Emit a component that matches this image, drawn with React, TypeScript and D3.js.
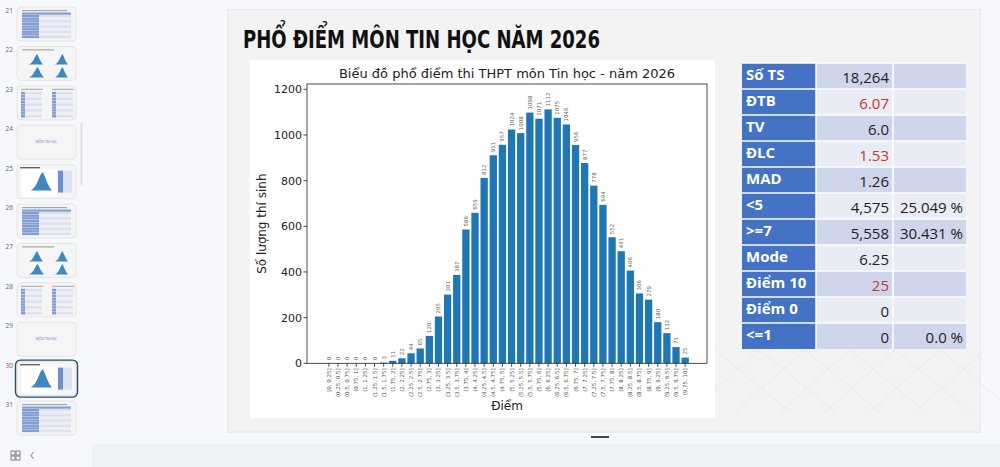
import * as d3 from "d3";

// bins of 0.25 points, counts
const binLabels = [
  "[0, 0.25]", "(0.25, 0.5]", "(0.5, 0.75]", "(0.75, 1]", "(1, 1.25]", "(1.25, 1.5]",
  "(1.5, 1.75]", "(1.75, 2]", "(2, 2.25]", "(2.25, 2.5]", "(2.5, 2.75]", "(2.75, 3]",
  "(3, 3.25]", "(3.25, 3.5]", "(3.5, 3.75]", "(3.75, 4]", "(4, 4.25]", "(4.25, 4.5]",
  "(4.5, 4.75]", "(4.75, 5]", "(5, 5.25]", "(5.25, 5.5]", "(5.5, 5.75]", "(5.75, 6]",
  "(6, 6.25]", "(6.25, 6.5]", "(6.5, 6.75]", "(6.75, 7]", "(7, 7.25]", "(7.25, 7.5]",
  "(7.5, 7.75]", "(7.75, 8]", "(8, 8.25]", "(8.25, 8.5]", "(8.5, 8.75]", "(8.75, 9]",
  "(9, 9.25]", "(9.25, 9.5]", "(9.5, 9.75]", "(9.75, 10]",
];
const binCounts = [
  0, 0, 0, 0, 0, 0, 3, 11, 22, 44, 65, 120, 205, 301, 387, 586, 659, 812, 911, 957,
  1024, 1008, 1098, 1071, 1112, 1075, 1046, 956, 877, 778, 694, 552, 491, 406, 306,
  279, 180, 132, 71, 25,
];
const yTicks = [0, 200, 400, 600, 800, 1000, 1200];

// summary table
const statLabels = ["Số TS", "ĐTB", "TV", "ĐLC", "MAD", "<5", ">=7", "Mode", "Điểm 10", "Điểm 0", "<=1"];
const statValues = ["18,264", "6.07", "6.0", "1.53", "1.26", "4,575", "5,558", "6.25", "25", "0", "0"];
const statPercents = ["", "", "", "", "", "25.049 %", "30.431 %", "", "", "", "0.0 %"];
const statRed = [false, true, false, true, false, false, false, false, true, false, false];

// sidebar slides
const slideNumbers = [21, 22, 23, 24, 25, 26, 27, 28, 29, 30, 31];
const slideKinds = ["table", "four", "two", "blank", "chart", "table", "four", "two", "blank", "chart", "table"];

const UI = "'Open Sans', 'Noto Sans', sans-serif";
const MPL = "'DejaVu Sans', sans-serif";

function Chart() {
  const left = 307, right = 707, top = 84, bottom = 363.3;
  const n = binCounts.length;
  const pad = (n - 1 + 0.8) * 0.05;
  const x = d3.scaleLinear().domain([-0.4 - pad, n - 1 + 0.4 + pad]).range([left, right]);
  const y = d3.scaleLinear().domain([0, d3.max(binCounts)! * 1.1]).range([bottom, top]);
  const cx = (left + right) / 2;
  return (
    <g>
      <rect x={250} y={60} width={465} height={358} fill="#ffffff" />
      <text x={cx} y={78} textAnchor="middle" fontFamily={MPL} fontSize={13} fill="#222">
        Biểu đồ phổ điểm thi THPT môn Tin học - năm 2026
      </text>
      {binCounts.map((v, i) => (
        <rect key={i} x={x(i - 0.4)} y={y(v)} width={x(0.8) - x(0)} height={bottom - y(v)} fill="#1f77b4" />
      ))}
      {binCounts.map((v, i) => (
        <text key={"l" + i} transform={`translate(${x(i) + 2},${y(v) - 3}) rotate(-90)`}
          fontFamily={MPL} fontSize={5.5} fill="#666">{v}</text>
      ))}
      <rect x={left} y={top} width={right - left} height={bottom - top} fill="none" stroke="#222" strokeWidth={0.8} />
      {yTicks.map((t) => (
        <g key={t}>
          <line x1={left - 3.5} x2={left} y1={y(t)} y2={y(t)} stroke="#222" strokeWidth={0.8} />
          <text x={left - 5} y={y(t) + 4} textAnchor="end" fontFamily={MPL} fontSize={11} fill="#222">{t}</text>
        </g>
      ))}
      {binLabels.map((l, i) => (
        <g key={"t" + i}>
          <line x1={x(i)} x2={x(i)} y1={bottom} y2={bottom + 3.5} stroke="#222" strokeWidth={0.8} />
          <text transform={`translate(${x(i) + 2},${bottom + 5}) rotate(-90)`} textAnchor="end"
            fontFamily={MPL} fontSize={5.5} fill="#555">{l}</text>
        </g>
      ))}
      <text x={cx} y={410} textAnchor="middle" fontFamily={MPL} fontSize={12} fill="#222">Điểm</text>
      <text transform={`translate(266,${(top + bottom) / 2}) rotate(-90)`} textAnchor="middle"
        fontFamily={MPL} fontSize={12} fill="#222">Số lượng thí sinh</text>
    </g>
  );
}

function StatTable() {
  const x0 = 742, c1 = 816, c2 = 893, x1 = 966;
  const rows = d3.range(statLabels.length);
  const ry = d3.scaleLinear().domain([0, statLabels.length]).range([63, 349]);
  const h = ry(1) - ry(0);
  return (
    <g fontFamily={UI}>
      {rows.map((i) => (
        <g key={i}>
          <rect x={x0} y={ry(i)} width={c1 - x0} height={h} fill="#4472c4" />
          <rect x={c1} y={ry(i)} width={x1 - c1} height={h} fill={i % 2 === 0 ? "#cfd5ea" : "#e9ebf5"} />
          <text x={x0 + 4} y={ry(i) + 17} fontSize={15} fontWeight={700} fill="#fff">{statLabels[i]}</text>
          <text x={c2 - 4} y={ry(i) + 20} fontSize={15} textAnchor="end" fill={statRed[i] ? "#c0392b" : "#222"}>
            {statValues[i]}
          </text>
          {statPercents[i] && (
            <text x={x1 - 3} y={ry(i) + 20} fontSize={15} textAnchor="end" fill="#222">{statPercents[i]}</text>
          )}
        </g>
      ))}
      {rows.map((i) => (
        <line key={"h" + i} x1={x0} x2={x1} y1={ry(i)} y2={ry(i)} stroke="#fff" strokeWidth={1.5} />
      ))}
      <line x1={c1} x2={c1} y1={63} y2={349} stroke="#fff" strokeWidth={1.5} />
      <line x1={c2} x2={c2} y1={63} y2={349} stroke="#fff" strokeWidth={1.5} />
    </g>
  );
}

function Thumb({ kind, x, y }: { kind: string; x: number; y: number }) {
  const w = 59, h = 34;
  const tableRows = d3.range(9);
  const blue = "#6f8fce";
  const mini = (mx: number, my: number, mw: number, mh: number) => (
    <path d={`M${mx},${my + mh} C${mx + mw * 0.35},${my + mh * 0.9} ${mx + mw * 0.45},${my - mh * 0.1} ${mx + mw * 0.6},${my}
      C${mx + mw * 0.7},${my + mh * 0.3} ${mx + mw * 0.85},${my + mh * 0.8} ${mx + mw},${my + mh} Z`} fill="#3f88bf" />
  );
  let body = null;
  if (kind === "table") {
    body = (
      <g opacity={0.85}>
        <rect x={x + 5} y={y + 3} width={45} height={1.2} fill="#999" />
        <rect x={x + 5} y={y + 5.5} width={49} height={2.2} fill={blue} />
        {tableRows.map((r) => (
          <g key={r}>
            <rect x={x + 5} y={y + 8 + r * 2.6} width={17} height={2.3} fill={blue} />
            <rect x={x + 22} y={y + 8 + r * 2.6} width={32} height={2.3} fill={r % 2 ? "#eceef6" : "#d8ddee"} />
          </g>
        ))}
      </g>
    );
  } else if (kind === "four") {
    body = (
      <g>
        <rect x={x + 5} y={y + 3} width={32} height={1} fill="#999" />
        {mini(x + 12, y + 8, 14, 10)}
        {mini(x + 38, y + 8, 13, 10)}
        {mini(x + 12, y + 21, 15, 10)}
        {mini(x + 38, y + 21, 13, 10)}
      </g>
    );
  } else if (kind === "two") {
    body = (
      <g opacity={0.85}>
        {[0, 1].map((k) => (
          <g key={k}>
            <rect x={x + 4 + k * 31} y={y + 3} width={22} height={1} fill="#999" />
            {tableRows.map((r) => (
              <g key={r}>
                <rect x={x + 4 + k * 31} y={y + 6 + r * 2.9} width={4} height={2.5} fill={blue} />
                <rect x={x + 8 + k * 31} y={y + 6 + r * 2.9} width={17} height={2.5} fill={r % 2 ? "#eceef6" : "#d8ddee"} />
              </g>
            ))}
          </g>
        ))}
      </g>
    );
  } else if (kind === "blank") {
    body = (
      <text x={x + w / 2} y={y + h / 2 + 1} textAnchor="middle" fontSize={3.2} fill="#5a7fc4" fontFamily={UI}>
        MÔN TIN HỌC
      </text>
    );
  } else if (kind === "chart") {
    body = (
      <g>
        <rect x={x + 3} y={y + 2.5} width={20} height={1.2} fill="#555" />
        <rect x={x + 4} y={y + 5} width={36} height={27} fill="#fff" />
        {mini(x + 13, y + 8, 22, 18)}
        <rect x={x + 41} y={y + 6} width={5} height={22} fill={blue} />
        <rect x={x + 46} y={y + 6} width={9} height={22} fill="#dde2f0" />
      </g>
    );
  }
  return (
    <g>
      <rect x={x} y={y} width={w} height={h} rx={4} fill="#f5f5f5" stroke="#e0e0e0" strokeWidth={0.8} />
      {body}
    </g>
  );
}

function Sidebar() {
  const sy = d3.scaleLinear().domain([0, 1]).range([7, 46.4]);
  return (
    <g>
      {slideNumbers.map((num, i) => (
        <g key={num}>
          <text x={5.5} y={sy(i) + 6} fontSize={6.5} fill="#666" fontFamily={UI}>{num}</text>
          <Thumb kind={slideKinds[i]} x={17} y={sy(i)} />
        </g>
      ))}
      <rect x={15.5} y={sy(9) - 1.5} width={62} height={37} rx={5} fill="none" stroke="#24506b" strokeWidth={1.4} />
      <rect x={80.5} y={123} width={2} height={62} rx={1} fill="#dcdfe4" />
      <rect x={0} y={440} width={90} height={27} fill="#f6f8fb" />
      <g stroke="#777" strokeWidth={0.9} fill="none">
        <rect x={11} y={451} width={4} height={4} />
        <rect x={16} y={451} width={4} height={4} />
        <rect x={11} y={456} width={4} height={4} />
        <rect x={16} y={456} width={4} height={4} />
        <path d="M33.5,452 L31,455.5 L33.5,459" />
      </g>
    </g>
  );
}

export default function App() {
  return (
    <div style={{ position: "fixed", left: 0, top: 0, width: 1000, height: 467, overflow: "hidden", background: "#f7f8fb" }}>
      <svg width={1000} height={467} style={{ display: "block" }}>
        <rect x={0} y={0} width={1000} height={467} fill="#f7f8fb" />
        <Sidebar />
        <rect x={92} y={444} width={908} height={23} fill="#eef1f6" />
        {/* slide */}
        <rect x={227} y={9} width={754} height={424} fill="#ececec" />
        <rect x={229} y={10} width={751} height={421} fill="#f3f3f3" />
        <g stroke="#e6e6e6" strokeWidth={0.8}>
          {d3.range(0, 6).map((k) => (
            <g key={k}>
              <line x1={715 + k * 45} y1={350} x2={790 + k * 45} y2={412} />
              <line x1={760 + k * 45} y1={350} x2={690 + k * 45} y2={412} />
            </g>
          ))}
        </g>
        <text x={243} y={48} fontFamily="'Liberation Sans Narrow', 'DejaVu Sans Condensed', sans-serif" fontWeight={700}
          fontSize={25} fill="#111" textLength={357} lengthAdjust="spacingAndGlyphs">
          PHỔ ĐIỂM MÔN TIN HỌC NĂM 2026
        </text>
        <Chart />
        <StatTable />
        <rect x={591} y={436} width={18} height={2} fill="#3a4a5a" />
      </svg>
    </div>
  );
}
